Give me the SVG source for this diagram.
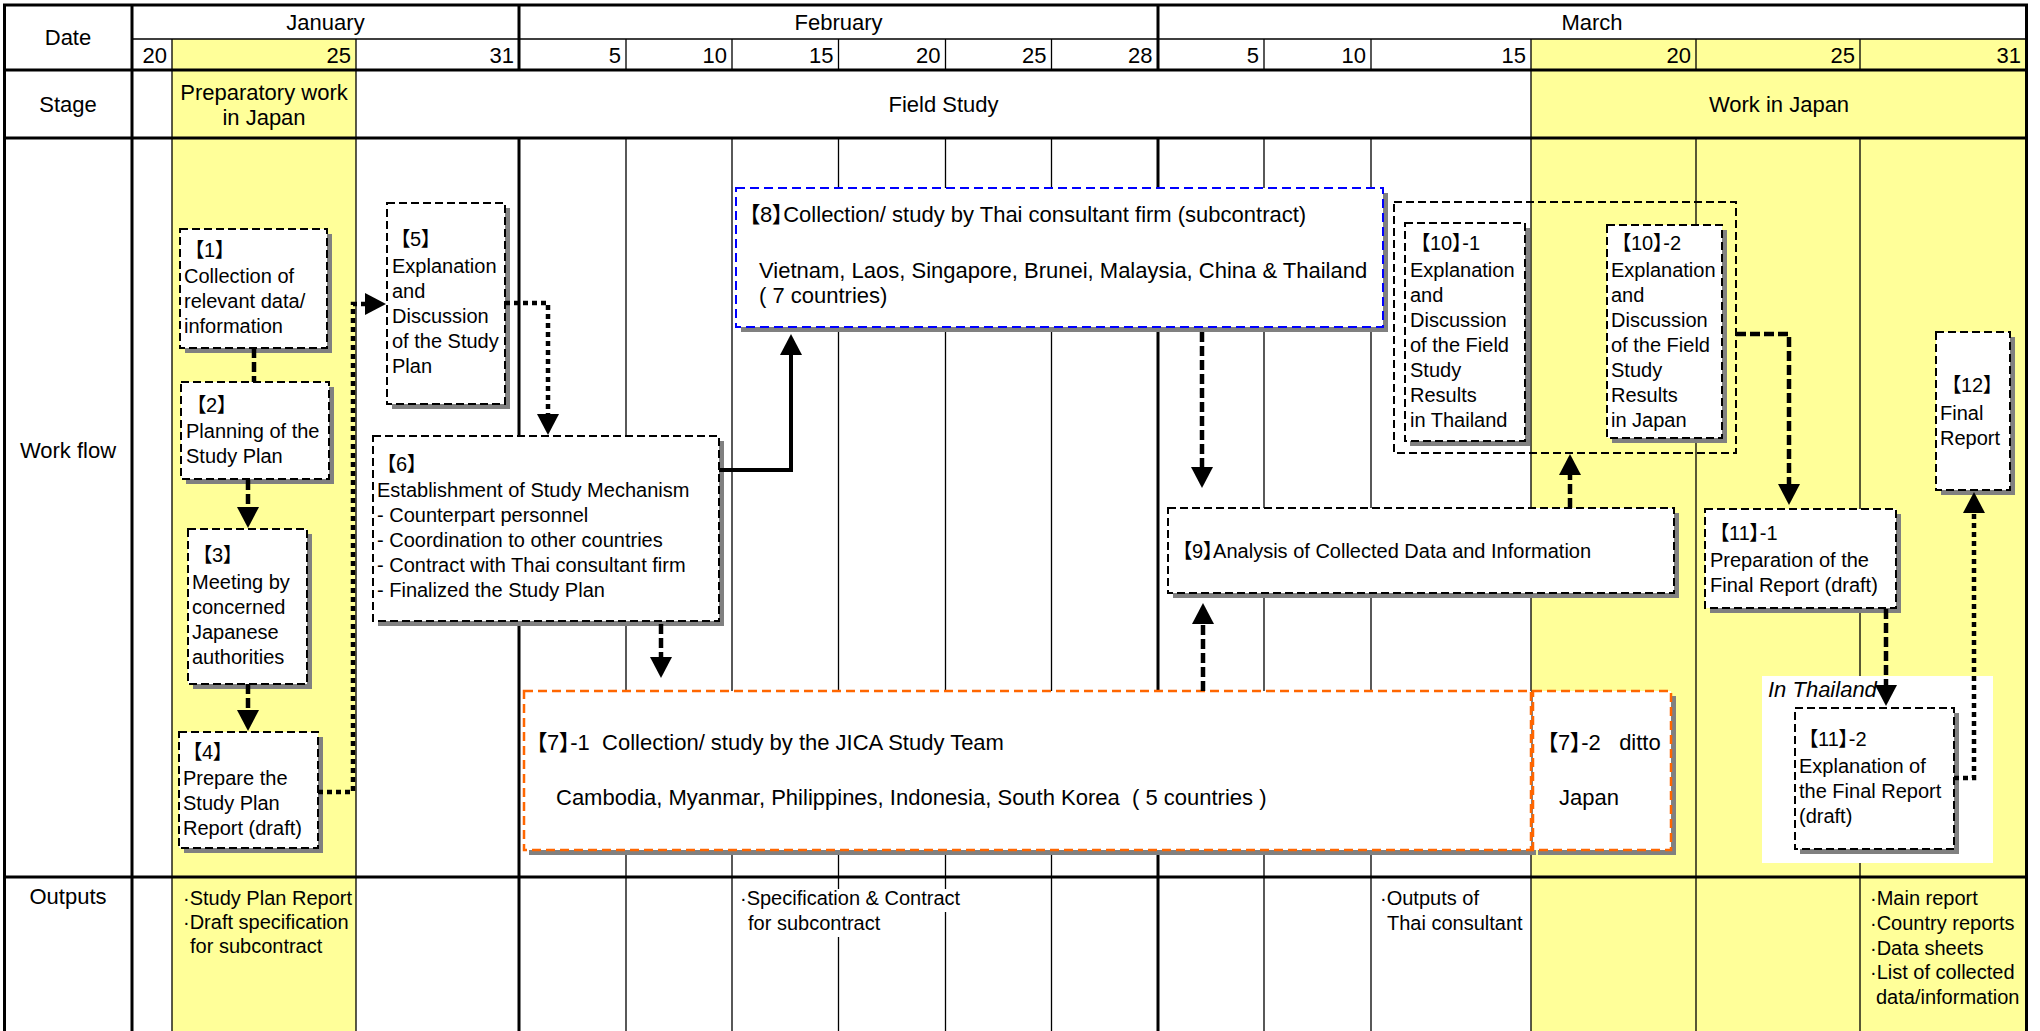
<svg xmlns="http://www.w3.org/2000/svg" width="2040" height="1031" viewBox="0 0 2040 1031">
<defs>
<style>
text { font-family: "Liberation Sans", "Noto Sans CJK JP", Arial, sans-serif; fill:#000; font-size:20px; font-feature-settings:"palt"; }
.h { font-size:22px; }
.f22 { font-size:22px; }
.c { text-anchor:middle; }
.e { text-anchor:end; }
.it { font-style:italic; font-size:22px; }
.thick { stroke:#000; stroke-width:3; fill:none; }
.thin { stroke:#000; stroke-width:1.3; fill:none; }
.yel { fill:#FFFF99; }
.shadow { fill:#808080; }
.box { fill:#fff; stroke:#000; stroke-width:2; stroke-dasharray:8 4; }
.bbox { fill:#fff; stroke:#0000FF; stroke-width:2; stroke-dasharray:9 5; }
.obox { fill:#fff; stroke:#FF6600; stroke-width:2.5; stroke-dasharray:9 5; }
.grp { fill:none; stroke:#000; stroke-width:2; stroke-dasharray:8 4; }
.dash { fill:none; stroke:#000; stroke-width:4.5; stroke-dasharray:10 4; }
.dot { fill:none; stroke:#000; stroke-width:4.5; stroke-dasharray:5 4; }
.solid { fill:none; stroke:#000; stroke-width:4; }
</style>
<marker id="ah" viewBox="0 0 22 22" refX="0" refY="11" markerWidth="22" markerHeight="22" markerUnits="userSpaceOnUse" orient="auto">
<path d="M0,0 L21,11 L0,22 Z" fill="#000"/>
</marker>
</defs>

<rect x="0" y="0" width="2040" height="1031" fill="#fff"/>

<g id="table">
<rect class="yel" x="172" y="39" width="184" height="992"/>
<rect class="yel" x="1531" y="39" width="496" height="992"/>
<path class="thin" d="M172,39 V1031 M356,39 V1031 M1531,39 V1031
 M626,39 V70 M626,138 V1031 M732,39 V70 M732,138 V1031 M838.5,39 V70 M838.5,138 V1031
 M945.5,39 V70 M945.5,138 V1031 M1051.5,39 V70 M1051.5,138 V1031
 M1264,39 V70 M1264,138 V1031 M1371,39 V70 M1371,138 V1031
 M1696,39 V70 M1696,138 V1031 M1860,39 V70 M1860,138 V1031
 M132,39 H2026.5"/>
<path class="thick" d="M4.5,5 V1031 M2026.5,5 V1031 M132,5 V1031
 M519,5 V70 M519,138 V1031 M1158,5 V70 M1158,138 V1031
 M3,5 H2028 M3,70 H2028 M3,138 H2028 M3,877 H2028"/>
<text class="h c" x="68" y="45">Date</text>
<text class="h c" x="325.5" y="30">January</text>
<text class="h c" x="838.5" y="30">February</text>
<text class="h c" x="1592" y="30">March</text>
<text class="h e" x="167" y="63">20</text>
<text class="h e" x="351" y="63">25</text>
<text class="h e" x="514" y="63">31</text>
<text class="h e" x="621" y="63">5</text>
<text class="h e" x="727" y="63">10</text>
<text class="h e" x="833.5" y="63">15</text>
<text class="h e" x="940.5" y="63">20</text>
<text class="h e" x="1046.5" y="63">25</text>
<text class="h e" x="1152.5" y="63">28</text>
<text class="h e" x="1259" y="63">5</text>
<text class="h e" x="1366" y="63">10</text>
<text class="h e" x="1526" y="63">15</text>
<text class="h e" x="1691" y="63">20</text>
<text class="h e" x="1855" y="63">25</text>
<text class="h e" x="2021" y="63">31</text>
<text class="h c" x="68" y="112">Stage</text>
<text class="h c" x="264" y="100">Preparatory work</text>
<text class="h c" x="264" y="125">in Japan</text>
<text class="h c" x="943.5" y="112">Field Study</text>
<text class="h c" x="1779" y="112">Work in Japan</text>
<text class="h c" x="68" y="458">Work flow</text>
<text class="h c" x="68" y="904">Outputs</text>
</g>

<g id="outputs">
<rect x="738" y="889" width="227" height="23" fill="#fff"/>
<rect x="745" y="912" width="146" height="25" fill="#fff"/>
<text x="183" y="905">·Study Plan Report</text>
<text x="183" y="929">·Draft specification</text>
<text x="190" y="953">for subcontract</text>
<text x="740" y="905">·Specification &amp; Contract</text>
<text x="748" y="930">for subcontract</text>
<text x="1380" y="905">·Outputs of</text>
<text x="1387" y="930">Thai consultant</text>
<text x="1870" y="905">·Main report</text>
<text x="1870" y="930">·Country reports</text>
<text x="1870" y="955">·Data sheets</text>
<text x="1870" y="979">·List of collected</text>
<text x="1876" y="1004">data/information</text>
</g>

<g id="thailand-area">
<rect x="1762" y="676" width="231" height="187" fill="#fff"/>
<text class="it" x="1768" y="697">In Thailand</text>
</g>

<g id="n1">
<rect class="shadow" x="185" y="234" width="147" height="119"/>
<rect class="box" x="180" y="229" width="147" height="119"/>
<text x="194" y="257">【1】</text>
<text x="184" y="283">Collection of</text>
<text x="184" y="308">relevant data/</text>
<text x="184" y="333">information</text>
</g>

<g id="n2">
<rect class="shadow" x="186" y="387" width="148" height="97"/>
<rect class="box" x="181" y="382" width="148" height="97"/>
<text x="196" y="412">【2】</text>
<text x="186" y="438">Planning of the</text>
<text x="186" y="463">Study Plan</text>
</g>

<g id="n3">
<rect class="shadow" x="193" y="534" width="119" height="155"/>
<rect class="box" x="188" y="529" width="119" height="155"/>
<text x="202" y="562">【3】</text>
<text x="192" y="589">Meeting by</text>
<text x="192" y="614">concerned</text>
<text x="192" y="639">Japanese</text>
<text x="192" y="664">authorities</text>
</g>

<g id="n4">
<rect class="shadow" x="184" y="737" width="139" height="116"/>
<rect class="box" x="179" y="732" width="139" height="116"/>
<text x="192" y="759">【4】</text>
<text x="183" y="785">Prepare the</text>
<text x="183" y="810">Study Plan</text>
<text x="183" y="835">Report (draft)</text>
</g>

<g id="n5">
<rect class="shadow" x="392" y="208" width="118" height="201"/>
<rect class="box" x="387" y="203" width="118" height="201"/>
<text x="400" y="246">【5】</text>
<text x="392" y="273">Explanation</text>
<text x="392" y="298">and</text>
<text x="392" y="323">Discussion</text>
<text x="392" y="348">of the Study</text>
<text x="392" y="373">Plan</text>
</g>

<g id="n6">
<rect class="shadow" x="378" y="441" width="346" height="185"/>
<rect class="box" x="373" y="436" width="346" height="185"/>
<text x="386" y="471">【6】</text>
<text x="377" y="497">Establishment of Study Mechanism</text>
<text x="377" y="522">- Counterpart personnel</text>
<text x="377" y="547">- Coordination to other countries</text>
<text x="377" y="572">- Contract with Thai consultant firm</text>
<text x="377" y="597">- Finalized the Study Plan</text>
</g>

<g id="n8">
<rect class="shadow" x="741" y="193" width="647" height="139"/>
<rect class="bbox" x="736" y="188" width="647" height="139"/>
<text class="f22" x="749" y="222">【8】Collection/ study by Thai consultant firm (subcontract)</text>
<text class="f22" x="759" y="278">Vietnam, Laos, Singapore, Brunei, Malaysia, China &amp; Thailand</text>
<text class="f22" x="759" y="303">( 7 countries)</text>
</g>

<g id="n7-1">
<rect class="shadow" x="529" y="696" width="1007" height="159"/>
<rect class="obox" x="524" y="691" width="1007" height="159"/>
<text class="f22" x="536" y="750" xml:space="preserve">【7】-1  Collection/ study by the JICA Study Team</text>
<text class="f22" x="556" y="805" xml:space="preserve">Cambodia, Myanmar, Philippines, Indonesia, South Korea  ( 5 countries )</text>
</g>

<g id="n7-2">
<rect class="shadow" x="1538" y="696" width="138" height="159"/>
<rect class="obox" x="1533" y="691" width="138" height="159"/>
<text class="f22" x="1547" y="750" xml:space="preserve">【7】-2   ditto</text>
<text class="f22" x="1559" y="805">Japan</text>
</g>

<g id="n9">
<rect class="shadow" x="1173" y="513" width="506" height="85"/>
<rect class="box" x="1168" y="508" width="506" height="85"/>
<text x="1182" y="558">【9】Analysis of Collected Data and Information</text>
</g>

<g id="n10">
<rect class="grp" x="1394" y="202" width="342" height="251"/>
</g>

<g id="n10-1">
<rect class="shadow" x="1410" y="228" width="120" height="218"/>
<rect class="box" x="1405" y="223" width="120" height="218"/>
<text x="1420" y="250">【10】-1</text>
<text x="1410" y="277">Explanation</text>
<text x="1410" y="302">and</text>
<text x="1410" y="327">Discussion</text>
<text x="1410" y="352">of the Field</text>
<text x="1410" y="377">Study</text>
<text x="1410" y="402">Results</text>
<text x="1410" y="427">in Thailand</text>
</g>

<g id="n10-2">
<rect class="shadow" x="1612" y="230" width="115" height="213"/>
<rect class="box" x="1607" y="225" width="115" height="213"/>
<text x="1621" y="250">【10】-2</text>
<text x="1611" y="277">Explanation</text>
<text x="1611" y="302">and</text>
<text x="1611" y="327">Discussion</text>
<text x="1611" y="352">of the Field</text>
<text x="1611" y="377">Study</text>
<text x="1611" y="402">Results</text>
<text x="1611" y="427">in Japan</text>
</g>

<g id="n11-1">
<rect class="shadow" x="1710" y="514" width="191" height="99"/>
<rect class="box" x="1705" y="509" width="191" height="99"/>
<text x="1719" y="540">【11】-1</text>
<text x="1710" y="567">Preparation of the</text>
<text x="1710" y="592">Final Report (draft)</text>
</g>

<g id="n11-2">
<rect class="shadow" x="1800" y="713" width="159" height="141"/>
<rect class="box" x="1795" y="708" width="159" height="141"/>
<text x="1808" y="746">【11】-2</text>
<text x="1799" y="773">Explanation of</text>
<text x="1799" y="798">the Final Report</text>
<text x="1799" y="823">(draft)</text>
</g>

<g id="n12">
<rect class="shadow" x="1941" y="337" width="74" height="158"/>
<rect class="box" x="1936" y="332" width="74" height="158"/>
<text x="1951" y="392">【12】</text>
<text x="1940" y="420">Final</text>
<text x="1940" y="445">Report</text>
</g>

<g id="connectors">
<path class="dash" d="M254,348 V382"/>
<path class="dash" d="M248,480 V507" marker-end="url(#ah)"/>
<path class="dash" d="M248,684 V710" marker-end="url(#ah)"/>
<path class="dot" d="M318,792 H353 V304 H365" marker-end="url(#ah)"/>
<path class="dot" d="M505,303 H548 V414" marker-end="url(#ah)"/>
<path class="solid" d="M719,470 H791 V355" marker-end="url(#ah)"/>
<path class="dash" d="M661,624 V657" marker-end="url(#ah)"/>
<path class="dash" d="M1202,332 V467" marker-end="url(#ah)"/>
<path class="dash" d="M1203,691 V624" marker-end="url(#ah)"/>
<path class="dash" d="M1570,508 V475" marker-end="url(#ah)"/>
<path class="dash" d="M1736,334 H1789 V484" marker-end="url(#ah)"/>
<path class="dash" d="M1886,609 V685" marker-end="url(#ah)"/>
<path class="dot" d="M1954,778 H1974 V513" marker-end="url(#ah)"/>
</g>
</svg>
